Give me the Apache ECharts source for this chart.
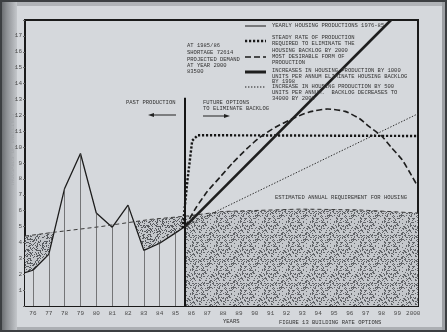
<!DOCTYPE html>
<html>
<head>
<meta charset="utf-8">
<script src="https://cdn.jsdelivr.net/npm/echarts@6/dist/echarts.min.js"></script>
<style>
  html, body { margin: 0; padding: 0; background: #d4d7db; }
  #main { width: 447px; height: 332px; }
</style>
</head>
<body>
<div id="main"></div>
<script>
// yearly housing production 1976-85 (thousands of units)
var prodYears = [75.5, 76, 77, 78, 79, 80, 81, 82, 83, 84, 85, 85.6];
var prodVals  = [2.1, 2.25, 3.25, 7.4, 9.6, 5.85, 4.95, 6.35, 3.5, 3.95, 4.6, 5.0];
// estimated annual requirement for housing
var reqYears = [75.5, 77.4, 80.3, 83.4, 85.6, 88.0, 92.9, 96.5, 100.3];
var reqVals  = [4.4, 4.65, 5.0, 5.45, 5.65, 5.95, 6.1, 6.05, 5.85];
// future options (all start at 1985/86)
var steadyYears = [85.45, 85.75, 86.05, 86.4, 100.3];
var steadyVals  = [4.9, 7.9, 10.4, 10.75, 10.7];
var desYears = [85.6, 86.3, 87.0, 87.8, 88.6, 89.5, 90.3, 91.3, 92.3, 93.4, 94.6, 95.7, 96.6, 97.2, 98.0, 98.6, 99.3, 99.9, 100.3];
var desVals  = [5.0, 6.2, 7.2, 8.1, 9.0, 9.9, 10.6, 11.25, 11.75, 12.2, 12.4, 12.25, 11.8, 11.3, 10.7, 10.0, 9.2, 8.2, 7.5];
var inc1000Years = [85.6, 98.6];
var inc1000Vals  = [5.0, 18];
var inc500Years = [85.6, 100.3];
var inc500Vals  = [5.0, 12.1];
// 1985/86 divider
var dividerYear = 85.6;
var dividerTop = 13.1;
var yearTicks = [76, 77, 78, 79, 80, 81, 82, 83, 84, 85, 86, 87, 88, 89, 90, 91, 92, 93, 94, 95, 96, 97, 98, 99, 100];

var paper = '#d5d8dc';
var font = '"Liberation Mono", "DejaVu Sans Mono", monospace';

function zip(xs, ys) {
  var out = [];
  for (var i = 0; i < xs.length; i++) out.push([xs[i], ys[i]]);
  return out;
}

// speckled texture for the shaded areas, fixed-seed scatter so it looks like print stipple
function makePattern(bg, dot, density, seed) {
  var size = 24;
  var c = document.createElement('canvas');
  c.width = size; c.height = size;
  var ctx = c.getContext('2d');
  ctx.fillStyle = bg;
  ctx.fillRect(0, 0, size, size);
  ctx.fillStyle = dot;
  var s = seed;
  for (var i = 0; i < size * size; i++) {
    s = (s * 1103515245 + 12345) % 2147483648;
    if (s / 2147483648 < density) ctx.fillRect(i % size, Math.floor(i / size), 1, 1);
  }
  return c;
}
var stipple = makePattern('#c4c7cb', '#626569', 0.28, 17);
var hatch = makePattern('#c3c6ca', '#585b5f', 0.34, 91);

// thin vertical lines under each year of production
var dropLines = [];
for (var i = 0; i < prodYears.length; i++) {
  if (Math.round(prodYears[i]) === prodYears[i]) {
    dropLines.push([{ coord: [prodYears[i], 0] }, { coord: [prodYears[i], prodVals[i]] }]);
  }
}

var reqPast = [], reqFuture = [];
for (var i = 0; i < reqYears.length; i++) {
  if (reqYears[i] <= dividerYear) reqPast.push([reqYears[i], reqVals[i]]);
  if (reqYears[i] >= dividerYear) reqFuture.push([reqYears[i], reqVals[i]]);
}

function txt(x, y, s) {
  return { type: 'text', x: x, y: y, z: 10,
    style: { text: s, font: '5.5px ' + font, fill: '#333', verticalAlign: 'middle' } };
}
function sample(y, w, dash, color) {
  return { type: 'line', z: 10, shape: { x1: 245, y1: y, x2: 266, y2: y },
    style: { stroke: color || '#1a1a1a', lineWidth: w, lineDash: dash } };
}

var notes = [
  [187, 46, 'AT 1985/86'], [187, 53, 'SHORTAGE 72614'], [187, 60, 'PROJECTED DEMAND'],
  [187, 66, 'AT YEAR 2000'], [187, 72, '83500'],
  [126, 103, 'PAST PRODUCTION'],
  [203, 103, 'FUTURE OPTIONS'], [203, 109, 'TO ELIMINATE BACKLOG'],
  [275, 198, 'ESTIMATED ANNUAL REQUIREMENT FOR HOUSING'],
  [223, 322, 'YEARS'], [279, 323, 'FIGURE 13 BUILDING RATE OPTIONS'],
  [272, 26, 'YEARLY HOUSING PRODUCTIONS 1976-85'],
  [272, 38, 'STEADY RATE OF PRODUCTION'], [272, 44, 'REQUIRED TO ELIMINATE THE'],
  [272, 51, 'HOUSING BACKLOG BY 2000'],
  [272, 57, 'MOST DESIRABLE FORM OF'], [272, 63, 'PRODUCTION'],
  [272, 71, 'INCREASES IN HOUSING PRODUCTION BY 1000'],
  [272, 77, 'UNITS PER ANNUM ELIMINATE HOUSING BACKLOG'], [272, 82, 'BY 1998'],
  [272, 87, 'INCREASE IN HOUSING PRODUCTION BY 500'],
  [272, 93, 'UNITS PER ANNUM.  BACKLOG DECREASES TO'], [272, 99, '34000 BY 2000']
];

var graphics = [
  // photo edges
  { type: 'rect', z: 0, shape: { x: 0, y: 0, width: 447, height: 6 }, style: { fill: '#b0b3b7' } },
  { type: 'rect', z: 0, shape: { x: 0, y: 327, width: 447, height: 5 }, style: { fill: '#acafb3' } },
  { type: 'rect', z: 0, shape: { x: 0, y: 0, width: 17, height: 332 },
    style: { fill: new echarts.graphic.LinearGradient(0, 0, 1, 0, [
      { offset: 0, color: '#5f6265' }, { offset: 0.4, color: '#8d9094' }, { offset: 1, color: '#c4c7cb' }]) } },
  { type: 'rect', z: 0, shape: { x: 442, y: 0, width: 5, height: 332 }, style: { fill: '#9da0a4' } },
  { type: 'rect', z: 1, shape: { x: 1, y: 1, width: 445, height: 330 }, style: { fill: 'none', stroke: '#3c3f42', lineWidth: 2 } },
  // y axis title, barely legible in the photo
  { type: 'text', x: 13, y: 150, rotation: Math.PI / 2, z: 10,
    style: { text: 'THOUSANDS OF DWELLINGS', font: '5.5px ' + font, fill: '#a2a5a9', align: 'center', verticalAlign: 'middle' } },
  // arrows
  { type: 'polyline', z: 10, shape: { points: [[152, 115], [176, 115]] }, style: { stroke: '#222', lineWidth: 1 } },
  { type: 'polygon', z: 10, shape: { points: [[148, 115], [154, 113], [154, 117]] }, style: { fill: '#222' } },
  { type: 'polyline', z: 10, shape: { points: [[203, 116], [226, 116]] }, style: { stroke: '#222', lineWidth: 1 } },
  { type: 'polygon', z: 10, shape: { points: [[230, 116], [224, 114], [224, 118]] }, style: { fill: '#222' } },
  // legend samples
  sample(26, 1, null),
  sample(41, 2.4, [2.2, 1.8]),
  sample(57, 1.6, [6, 3]),
  sample(72, 3, null, '#1e1e1e'),
  sample(87, 1, [1.4, 1.6])
];
notes.forEach(function (n) { graphics.push(txt(n[0], n[1], n[2])); });

var chart = echarts.init(document.getElementById('main'));
chart.setOption({
  animation: false,
  backgroundColor: paper,
  textStyle: { fontFamily: font },
  grid: { left: 25, right: 29, top: 20, bottom: 26, show: true, borderColor: '#1a1a1a', borderWidth: 2 },
  xAxis: {
    type: 'value', min: 75.5, max: 100.3,
    axisLine: { show: true, lineStyle: { color: '#1a1a1a', width: 2 } },
    axisTick: { show: false },
    splitLine: { show: false },
    axisLabel: {
      customValues: yearTicks, margin: 4, fontSize: 6, color: '#4a4a4a', fontFamily: font,
      formatter: function (v) { return v === 100 ? '2000' : String(v); }
    }
  },
  yAxis: {
    type: 'value', min: 0, max: 18, interval: 1,
    axisLine: { show: true, lineStyle: { color: '#1a1a1a', width: 2 } },
    axisTick: { show: true, length: 2, lineStyle: { color: '#666' } },
    splitLine: { show: false },
    axisLabel: {
      margin: 3, fontSize: 6, color: '#4a4a4a', fontFamily: font,
      formatter: function (v) { return (v === 0 || v === 18) ? '' : String(v); }
    }
  },
  graphic: graphics,
  series: [
    { // hatched shortfall before 1985/86
      type: 'line', z: 1, data: reqPast, symbol: 'none',
      lineStyle: { width: 0 }, areaStyle: { color: { image: hatch, repeat: 'repeat' }, opacity: 1 }
    },
    { // past production, masks the hatch below it
      type: 'line', z: 2, data: zip(prodYears, prodVals), symbol: 'none',
      lineStyle: { color: '#1c1c1c', width: 1.3 },
      areaStyle: { color: paper, opacity: 1 },
      markLine: {
        silent: true, symbol: ['none', 'none'], label: { show: false },
        lineStyle: { type: 'solid', color: '#4a4a4a', width: 0.7 },
        data: dropLines
      }
    },
    { // requirement after 1985/86, stippled
      type: 'line', z: 2, data: reqFuture, symbol: 'none',
      lineStyle: { width: 0 }, areaStyle: { color: { image: stipple, repeat: 'repeat' }, opacity: 1 }
    },
    { // requirement line
      type: 'line', z: 3, data: zip(reqYears, reqVals), symbol: 'none',
      lineStyle: { color: '#3a3a3a', width: 1, type: [4, 3] }
    },
    { // steady rate
      type: 'line', z: 5, data: zip(steadyYears, steadyVals), symbol: 'none',
      lineStyle: { color: '#151515', width: 2.4, type: [2.2, 1.8] },
      markLine: {
        silent: true, symbol: ['none', 'none'], label: { show: false },
        lineStyle: { type: 'solid', color: '#151515', width: 2 },
        data: [[{ coord: [dividerYear, 0] }, { coord: [dividerYear, dividerTop] }]]
      }
    },
    { // most desirable
      type: 'line', z: 5, data: zip(desYears, desVals), symbol: 'none', smooth: 0.2,
      lineStyle: { color: '#1e1e1e', width: 1.6, type: [6, 3] }
    },
    { // +1000 per annum
      type: 'line', z: 5, data: zip(inc1000Years, inc1000Vals), symbol: 'none',
      lineStyle: { color: '#1e1e1e', width: 2.6 }
    },
    { // +500 per annum
      type: 'line', z: 5, data: zip(inc500Years, inc500Vals), symbol: 'none',
      lineStyle: { color: '#2e2e2e', width: 1, type: [1.4, 1.6] }
    }
  ]
});
</script>
</body>
</html>
